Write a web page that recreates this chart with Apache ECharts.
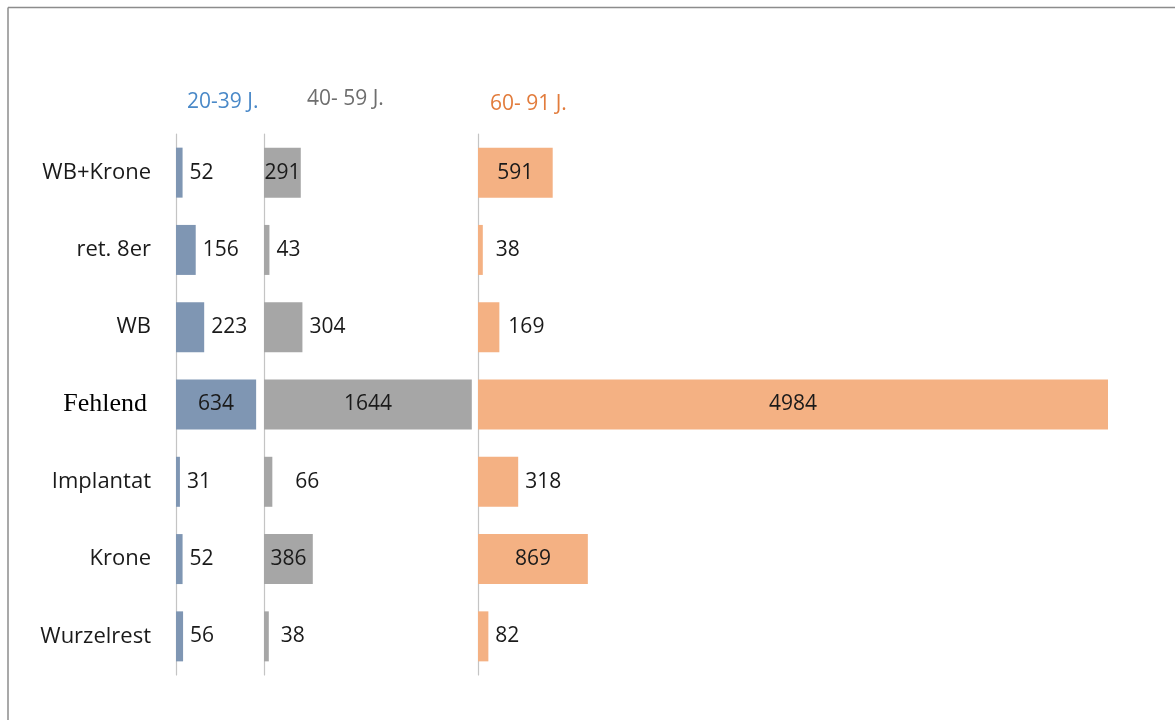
<!DOCTYPE html>
<html>
<head>
<meta charset="utf-8">
<script src="https://cdn.jsdelivr.net/npm/echarts@6/dist/echarts.min.js"></script>
<style>
  html, body { margin: 0; padding: 0; background: #fff; }
  #chart { width: 1175px; height: 720px; }
</style>
</head>
<body>
<div id="chart"></div>
<script>
// Kategorien von oben nach unten
const categories = ['WB+Krone', 'ret. 8er', 'WB', 'Fehlend', 'Implantat', 'Krone', 'Wurzelrest']
const groupNames = ['20-39 J.', '40- 59 J.', '60- 91 J.']
const young = [52, 156, 223, 634, 31, 52, 56]
const middle = [291, 43, 304, 1644, 66, 386, 38]
const old = [591, 38, 169, 4984, 318, 869, 82]

// Werte, deren Beschriftung im Balken steht
const insideLabels = [
  ['Fehlend'],
  ['WB+Krone', 'Fehlend', 'Krone'],
  ['WB+Krone', 'Fehlend', 'Krone']
]
// abweichender Abstand der Beschriftung
const labelGap = [
  {},
  { 'Implantat': 23, 'Wurzelrest': 12 },
  { 'ret. 8er': 13, 'WB': 9 }
]

const colors = ['#7f96b3', '#a6a6a6', '#f4b183']
const titleColors = ['#4a89c8', '#6e6e6e', '#e27c3c']
const panels = [
  { left: 176, width: 88 },
  { left: 264, width: 214 },
  { left: 478, width: 660 }
]
const unitsPerPx = 4984 / 630  // gleicher Maßstab in allen drei Feldern
const titleLeft = [187, 307, 490]
const titleTop = [92, 89, 94]
const numFont = '"Open Sans", sans-serif'

const chart = echarts.init(document.getElementById('chart'))
const seriesData = [young, middle, old]

const option = {
  animation: false,
  backgroundColor: '#fff',
  title: groupNames.map((name, i) => ({
    text: name,
    left: titleLeft[i],
    top: titleTop[i],
    padding: 0,
    textStyle: { color: titleColors[i], fontSize: 21, fontWeight: 'normal', fontFamily: numFont }
  })),
  graphic: [
    { type: 'line', shape: { x1: 8, y1: 7.5, x2: 1175, y2: 7.5 }, style: { stroke: '#8c8c8c', lineWidth: 1.5 } },
    { type: 'line', shape: { x1: 8, y1: 7.5, x2: 8, y2: 720 }, style: { stroke: '#8c8c8c', lineWidth: 1.5 } }
  ],
  grid: panels.map(p => ({ left: p.left, width: p.width, top: 134, height: 541 })),
  xAxis: panels.map((p, i) => ({
    type: 'value',
    gridIndex: i,
    min: 0,
    max: p.width * unitsPerPx,
    show: false
  })),
  yAxis: panels.map((p, i) => ({
    type: 'category',
    gridIndex: i,
    data: categories,
    inverse: true,
    axisLine: { show: true, lineStyle: { color: '#c4c4c4', width: 1.2 } },
    axisTick: { show: false },
    axisLabel: {
      show: i === 0,
      margin: 25,
      fontSize: 22,
      color: '#1a1a1a',
      fontFamily: numFont,
      formatter: v => v === 'Fehlend' ? '{serif|' + v + '}' : v,
      rich: {
        serif: { fontFamily: '"Liberation Serif", serif', fontSize: 26, color: '#000', padding: [0, 4, 0, 0] }
      }
    }
  })),
  series: seriesData.map((vals, i) => ({
    type: 'bar',
    xAxisIndex: i,
    yAxisIndex: i,
    barWidth: 50,
    itemStyle: { color: colors[i] },
    data: vals.map((v, j) => {
      const cat = categories[j]
      const inside = insideLabels[i].includes(cat)
      return {
        value: v,
        label: {
          show: true,
          position: inside ? 'inside' : 'right',
          distance: labelGap[i][cat] || 7,
          color: '#1a1a1a',
          fontSize: 21,
          fontFamily: numFont
        }
      }
    })
  }))
}
chart.setOption(option)
</script>
</body>
</html>
